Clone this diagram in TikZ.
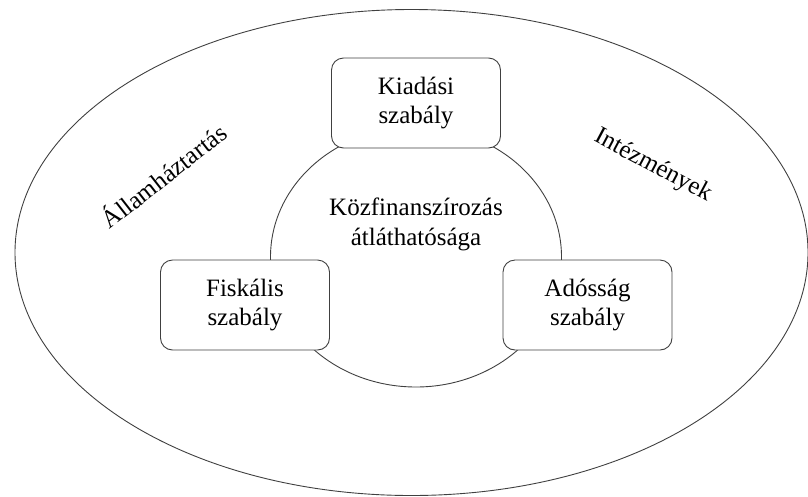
\documentclass[tikz,border=0pt]{standalone}
\usepackage{fontspec}
\setmainfont{Liberation Serif}
\begin{document}
\begin{tikzpicture}[x=1pt,y=-1pt,
  line width=0.9pt,
  outline/.style={draw=black!75},
  rulebox/.style={outline, fill=white, rounded corners=12pt,
    minimum width=169pt, minimum height=90pt, inner sep=0pt,
    align=center, font=\fontsize{25}{29}\selectfont},
  sidelabel/.style={font=\fontsize{25}{29}\selectfont, inner sep=0pt},
  corelabel/.style={align=center, font=\fontsize{25}{30}\selectfont, inner sep=0pt}]
  \useasboundingbox (0,0) rectangle (808,496);

  % outer domain
  \coordinate (outerc) at (411.5,252.5);
  \draw[outline] (outerc) ellipse [x radius=396.5pt, y radius=243pt];

  % inner ring joining the three rules
  \coordinate (innerc) at (416,257);
  \draw[outline] (innerc) ellipse [x radius=145.5pt, y radius=130pt];

  % rule boxes
  \node[rulebox] (kiad) at (416,103) {Kiadási\\szabály};
  \node[rulebox] (fisk) at (245,305) {Fiskális\\szabály};
  \node[rulebox] (ados) at (587.5,305) {Adósság\\szabály};

  % centre text
  \node[corelabel] (core) at (416,224) {Közfinanszírozás\\átláthatósága};

  % side labels
  \node[sidelabel, rotate=38] (allam) at (163,175) {Államháztartás};
  \node[sidelabel, rotate=-28] (intez) at (653,166) {Intézmények};
\end{tikzpicture}
\end{document}
